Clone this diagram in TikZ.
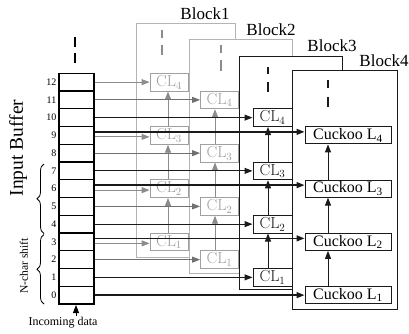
\documentclass[tikz,border=0pt]{standalone}
\usepackage{fontspec}
\setmainfont{Liberation Serif}
\newfontfamily\lmfont{Latin Modern Roman}
\usetikzlibrary{arrows.meta,decorations.pathreplacing}
\definecolor{blkgray}{HTML}{B4B4B4}
\definecolor{clgray}{HTML}{A0A0A0}
\definecolor{argray}{HTML}{8C8C8C}
\definecolor{dk}{HTML}{1A1A1A}
\tikzset{
  cell/.style={draw=black,line width=1.1pt,minimum width=35pt,minimum height=17.75pt,inner sep=0pt},
  numlab/.style={font=\fontsize{10}{10}\selectfont,anchor=east,inner sep=1pt},
  blkrect/.style={fill=white,line width=0.9pt},
  clbox/.style={draw,minimum width=38pt,minimum height=17.75pt,inner sep=0pt,fill=white,font=\lmfont\fontsize{16}{16}\selectfont},
  cubox/.style={draw=dk,line width=1pt,minimum width=86pt,minimum height=17pt,inner sep=0pt,fill=white,font=\fontsize{16}{16}\selectfont},
  tip/.style={-{Triangle[length=8pt,width=6pt]}},
  garr/.style={tip,draw=argray,line width=0.9pt},
  darr/.style={tip,draw=dk,line width=1pt},
  tarr/.style={tip,draw=dk,line width=1.4pt},
  dashmark/.style={line width=2pt},
  blab/.style={font=\fontsize{17}{17}\selectfont,inner sep=0pt},
}
\begin{document}
\begin{tikzpicture}[x=1pt,y=-1pt]
\useasboundingbox (0,0) rectangle (409,333);
% input buffer
\foreach \k in {0,...,12}{
  \node[cell] (c\k) at (76.5,{304-17.75*(\k+0.5)}) {};
  \node[numlab] (n\k) at ([xshift=-1pt]c\k.west) {\k};
}
\draw[dashmark] (75,37) -- (75,47) (75,53) -- (75,63);
\draw[decorate,decoration={brace,amplitude=7pt},line width=0.8pt] (44,233.5) -- (44,164);
\draw[decorate,decoration={brace,amplitude=7pt},line width=0.8pt] (44,304) -- (44,234.5);
\node[rotate=90,font=\fontsize{19.5}{19.5}\selectfont,inner sep=0pt] (ib) at (18,148) {Input Buffer};
\node[rotate=90,font=\fontsize{11.5}{11.5}\selectfont,inner sep=0pt] (ns) at (24,266) {N-char shift};
\node[font=\fontsize{12}{12}\selectfont,inner sep=0pt] (inc) at (63,323) {Incoming data};
\coordinate (incs) at (76,316);
\coordinate (inct) at (76,305);
\draw[tip,line width=1pt] (incs) -- (inct);

% Block 1
\draw[blkrect,draw=blkgray] (136,23) rectangle (235,257);
\node[blab] (bl1) at (205,14) {Block1};
\foreach \k/\r in {1/3,2/6,3/9,4/12}{
  \node[clbox,draw=clgray,text=clgray,line width=0.9pt] (a\k) at (169,{304-17.75*(\r+0.5)}) {CL$_{\k}$};
}
\foreach \k/\r in {1/3,2/6,3/9}{
  \draw[garr] ([yshift=-1.5pt]c\r.east) -- ([yshift=-1.5pt]a\k.west);
}
\draw[garr] (c12.east) -- (a4.west);
\foreach \i/\j in {1/2,2/3,3/4}{
  \draw[garr] ([xshift=-1pt]a\i.north) -- ([xshift=-1pt]a\j.south);
}
\draw[dashmark,draw=argray] (162,30) -- (162,38) (162,45) -- (162,55);

% Block 2
\draw[blkrect,draw=blkgray] (189,39) rectangle (292,273);
\node[blab] (bl2) at (271,30) {Block2};
\foreach \k/\r in {1/2,2/5,3/8,4/11}{
  \node[clbox,draw=clgray,text=clgray,line width=0.9pt] (b\k) at (219.5,{304-17.75*(\r+0.5)}) {CL$_{\k}$};
  \draw[garr,draw=argray!80!black] (c\r.east) -- (b\k.west);
}
\foreach \i/\j in {1/2,2/3,3/4}{
  \draw[garr] ([xshift=-4.5pt]b\i.north) -- ([xshift=-4.5pt]b\j.south);
}
\draw[dashmark,draw=argray] (221,45) -- (221,53) (221,60) -- (221,71);

% Block 3
\draw[blkrect,draw=dk] (239,56) rectangle (342,289);
\node[blab] (bl3) at (332,46) {Block3};
\foreach \k/\r in {1/1,2/4,3/7,4/10}{
  \node[clbox,draw=dk,text=dk,line width=1pt,minimum width=39pt] (d\k) at (272.5,{304-17.75*(\r+0.5)}) {CL$_{\k}$};
  \draw[darr] (c\r.east) -- (d\k.west);
}
\foreach \i/\j in {1/2,2/3,3/4}{
  \draw[darr] ([xshift=-4.5pt]d\i.north) -- ([xshift=-4.5pt]d\j.south);
}
\draw[dashmark,draw=dk] (268,67) -- (268,74) (268,82) -- (268,92);

% Block 4
\draw[blkrect,draw=dk] (292,70) rectangle (397,309);
\node[blab] (bl4) at (384,61) {Block4};
\foreach \k/\r in {1/0,2/3,3/6,4/9}{
  \node[cubox] (e\k) at (348,{304-17.75*(\r+0.5)}) {Cuckoo L\textsubscript{\k}};
}
\draw[tarr] (c0.east) -- (e1.west);
\foreach \k/\r in {2/3,3/6,4/9}{
  \draw[tarr] ([yshift=3.5pt]c\r.east) -- ([yshift=3.5pt]e\k.west);
}
\foreach \i/\j in {1/2,2/3,3/4}{
  \draw[darr] ([xshift=-20pt]e\i.north) -- ([xshift=-20pt]e\j.south);
}
\draw[dashmark,draw=dk] (328,80) -- (328,88) (328,97) -- (328,107);
\end{tikzpicture}
\end{document}
